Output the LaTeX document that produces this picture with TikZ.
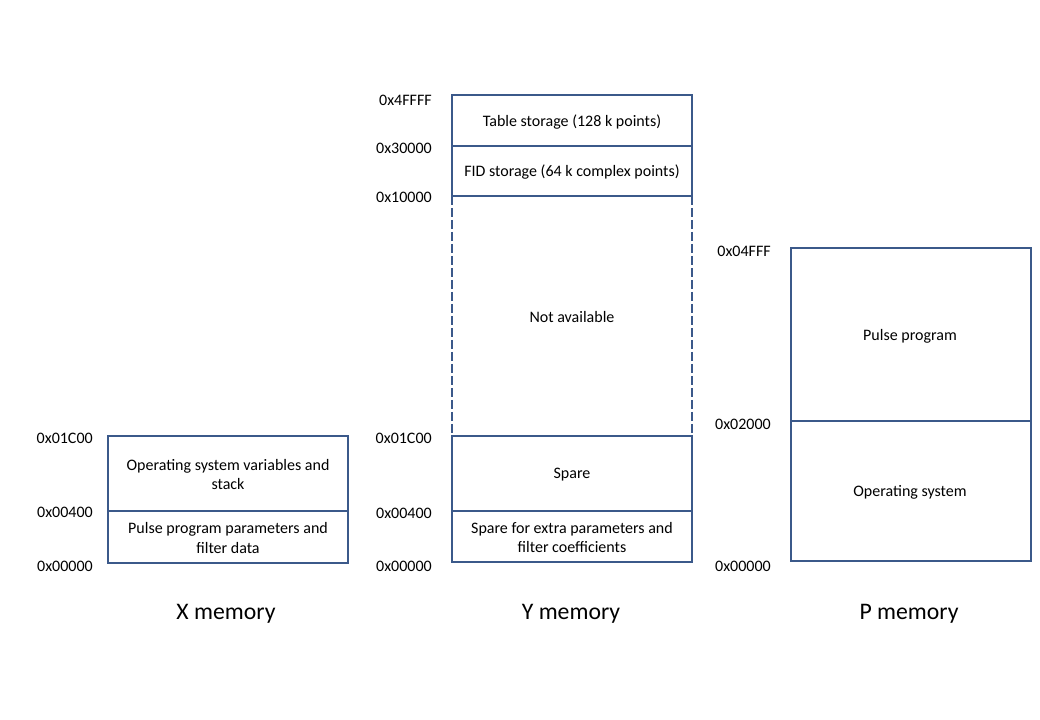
\documentclass[tikz,border=0pt]{standalone}
\usepackage{fontspec}
\setmainfont{Carlito}
\definecolor{memblue}{RGB}{59,89,138}
\begin{document}
\begin{tikzpicture}[x=0.75pt,y=-0.75pt,
  region/.style={draw=memblue,line width=2.1pt},
  dashregion/.style={draw=memblue,line width=2.1pt,dash pattern=on 6.5pt off 2.5pt},
  txt/.style={font=\fontsize{12}{14.5}\selectfont,align=center,inner sep=0pt},
  addr/.style={font=\fontsize{12}{14}\selectfont,anchor=east,inner sep=0pt},
  title/.style={font=\fontsize{17.8}{20}\selectfont,inner sep=0pt}]
\useasboundingbox (0,0) rectangle (1040,720);
% X memory
\draw[region] (108,436) rectangle (348,511);
\draw[region] (108,511) rectangle (348,563);
\node[txt] (xa) at (228,474.5) {Operating system variables and\\stack};
\node[txt] (xb) at (228,538) {Pulse program  parameters and\\filter data};
\node[addr] (xl1) at (93,438) {0x01C00};
\node[addr] (xl2) at (93,512) {0x00400};
\node[addr] (xl3) at (93,566) {0x00000};
\node[title] (xt) at (226,614) {X memory};
% Y memory
\draw[dashregion] (452,196) -- (452,436);
\draw[dashregion] (692,196) -- (692,436);
\draw[region] (452,95) rectangle (692,146);
\draw[region] (452,146) rectangle (692,196);
\draw[region] (452,436) rectangle (692,511);
\draw[region] (452,511) rectangle (692,562);
\node[txt] (ya) at (572,122) {Table storage (128 k points)};
\node[txt] (yb) at (572,172) {FID storage (64 k complex points)};
\node[txt] (yc) at (572,317) {Not available};
\node[txt] (yd) at (572,474.5) {Spare};
\node[txt] (ye) at (572,537.5) {Spare for extra parameters and\\filter coefficients};
\node[addr] (yl1) at (432,100) {0x4FFFF};
\node[addr] (yl2) at (432,148) {0x30000};
\node[addr] (yl3) at (432,197) {0x10000};
\node[addr] (yl4) at (432,438) {0x01C00};
\node[addr] (yl5) at (432,513) {0x00400};
\node[addr] (yl6) at (432,566) {0x00000};
\node[title] (yt) at (571,614) {Y memory};
% P memory
\draw[region] (791,248) rectangle (1031,421);
\draw[region] (791,421) rectangle (1031,561);
\node[txt] (pa) at (910,336) {Pulse program};
\node[txt] (pb) at (910,492) {Operating system};
\node[addr] (pl1) at (771,251) {0x04FFF};
\node[addr] (pl2) at (771,424) {0x02000};
\node[addr] (pl3) at (771,566) {0x00000};
\node[title] (pt) at (909,614) {P memory};
\end{tikzpicture}
\end{document}
